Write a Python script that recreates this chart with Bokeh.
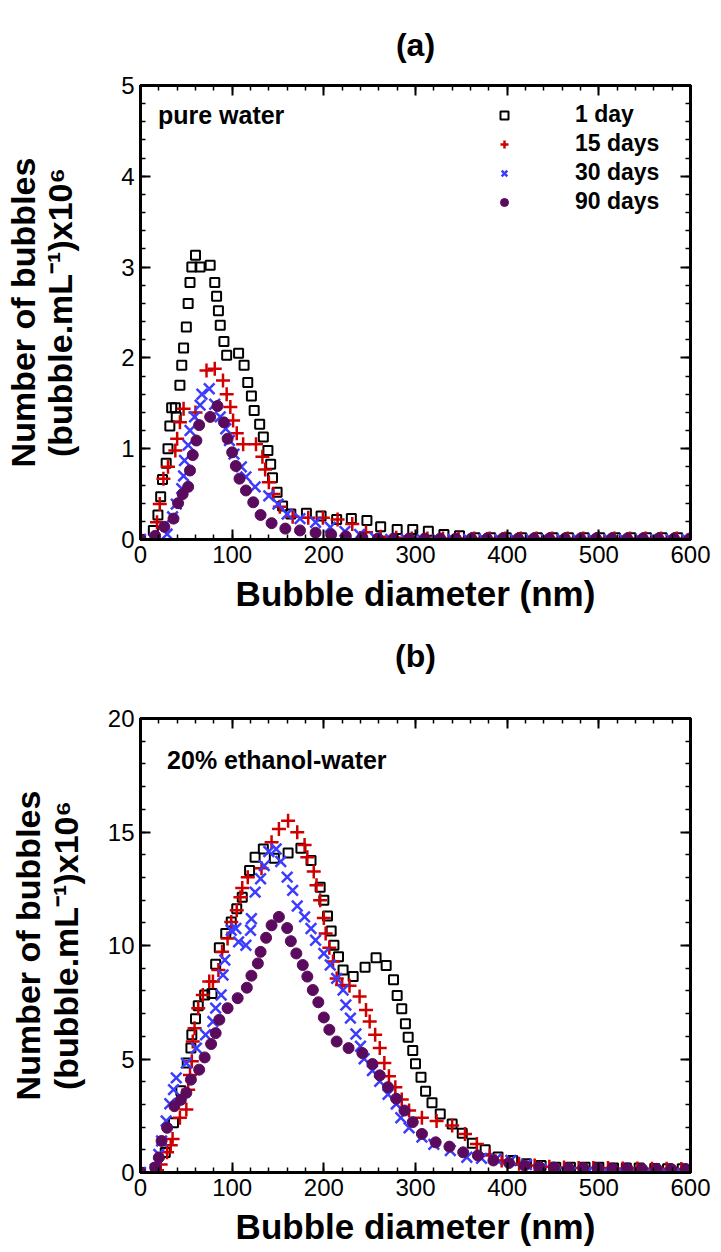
from bokeh.plotting import figure
from bokeh.models import (Range1d, LinearAxis, SingleIntervalTicker, Title, Label,
                          Legend, LegendItem, ColumnDataSource)
from bokeh.layouts import column
from bokeh.embed import file_html
from bokeh.resources import INLINE

# ---------------- data: panel (a) pure water ----------------
a_day1_x = [0, 14, 19, 22, 24, 28, 30, 32, 34, 38, 39, 43, 45, 47, 50, 52, 54, 56, 60, 65,
            76, 81, 83, 85, 87, 91, 94, 107, 113, 117, 121, 124, 130, 134, 139, 142, 144, 149, 155, 164,
            181, 197, 214, 230, 247, 262, 280, 297, 314, 331, 348, 365, 382, 399, 416, 433, 450, 467, 484, 501,
            518, 535, 552, 569, 586]
a_day1_y = [0.0, 0.10, 0.27, 0.47, 0.66, 0.84, 1.00, 1.25, 1.45, 1.45, 1.35, 1.70, 1.92, 2.11, 2.34, 2.60, 2.83, 3.00, 3.13, 3.00,
            3.02, 2.83, 2.68, 2.52, 2.36, 2.18, 2.03, 2.05, 1.92, 1.73, 1.58, 1.42, 1.27, 1.13, 0.98, 0.83, 0.68, 0.52, 0.37, 0.28,
            0.29, 0.26, 0.22, 0.23, 0.21, 0.14, 0.11, 0.11, 0.09, 0.055, 0.04, 0.02, 0.02, 0.02, 0.02, 0.02, 0.02, 0.02, 0.02, 0.02,
            0.02, 0.02, 0.02, 0.02, 0.02]

a_day15_x = [0, 18, 21, 25, 30, 38, 40, 43, 47, 60, 72, 81, 90, 94, 98, 101, 105, 112, 126, 133,
             136, 140, 145, 152, 166, 183, 199, 215, 231, 246, 262, 279, 296, 313, 330, 347, 364, 381, 398, 415,
             432, 449, 466, 483, 500, 517, 534, 551, 568, 585, 600]
a_day15_y = [0.0, 0.19, 0.39, 0.67, 0.80, 0.98, 1.11, 1.29, 1.44, 1.40, 1.86, 1.88, 1.75, 1.60, 1.46, 1.31, 1.17, 1.05, 1.05, 0.91,
             0.77, 0.63, 0.50, 0.36, 0.25, 0.24, 0.24, 0.22, 0.17, 0.08, 0.03, 0.02, 0.01, 0.01, 0.01, 0.01, 0.01, 0.01, 0.01, 0.01,
             0.01, 0.01, 0.01, 0.01, 0.01, 0.01, 0.01, 0.01, 0.01, 0.01, 0.01]

a_day30_x = [0, 15, 29, 35, 39, 45, 47, 48, 52, 54, 59, 65, 67, 75, 81, 87, 93, 97, 102, 110,
             115, 125, 140, 150, 160, 174, 191, 207, 223, 239, 256, 273, 290, 307, 324, 341, 358, 375, 392, 409,
             426, 443, 460, 477, 494, 511, 528, 545, 562, 579, 596]
a_day30_y = [0.0, 0.0, 0.06, 0.25, 0.39, 0.56, 0.70, 0.87, 1.04, 1.20, 1.35, 1.48, 1.60, 1.66, 1.49, 1.35, 1.22, 1.09, 0.94, 0.80,
             0.69, 0.58, 0.48, 0.39, 0.28, 0.23, 0.19, 0.135, 0.09, 0.055, 0.02, 0.0, 0.0, 0.0, 0.0, 0.0, 0.0, 0.0, 0.0, 0.0,
             0.0, 0.0, 0.0, 0.0, 0.0, 0.0, 0.0, 0.0, 0.0, 0.0, 0.0]

a_day90_x = [0, 16, 26, 36, 41, 46, 52, 54, 57, 61, 64, 76, 84, 91, 95, 100, 104, 108, 115, 123,
             131, 143, 158, 174, 191, 208, 224, 242, 259, 276, 293, 310, 327, 344, 361, 378, 395, 412, 429, 446,
             463, 480, 497, 514, 531, 548, 565, 582, 599]
a_day90_y = [0.0, 0.04, 0.14, 0.23, 0.40, 0.50, 0.58, 0.76, 0.93, 1.09, 1.26, 1.35, 1.47, 1.29, 1.11, 0.96, 0.81, 0.67, 0.54, 0.41,
             0.27, 0.18, 0.12, 0.10, 0.075, 0.055, 0.035, 0.02, 0.01, 0.01, 0.01, 0.01, 0.01, 0.01, 0.01, 0.01, 0.01, 0.01, 0.01, 0.01,
             0.01, 0.01, 0.01, 0.01, 0.01, 0.01, 0.01, 0.01, 0.01]

# ---------------- data: panel (b) 20% ethanol-water ----------------
b_day1_x = [0, 17, 27, 36, 44, 51, 55, 56, 60, 63, 70, 78, 82, 86, 93, 99, 105, 111, 119, 125,
            134, 146, 161, 175, 186, 196, 200, 204, 208, 211, 216, 221, 232, 245, 257, 268, 276, 280, 285, 289,
            292, 297, 300, 306, 311, 318, 327, 340, 351, 362, 376, 390, 406, 421, 437, 453, 469, 485, 500, 516,
            530, 544, 561, 575, 591]
b_day1_y = [0.0, 0.2, 0.88, 2.19, 3.6, 4.82, 5.48, 6.07, 6.77, 7.35, 7.82, 7.89, 9.17, 9.90, 10.53, 11.04, 11.62, 12.13, 13.30, 13.89,
            14.25, 13.84, 14.08, 14.28, 13.74, 12.57, 11.99, 11.30, 10.64, 10.01, 9.50, 8.92, 8.63, 9.04, 9.46, 9.12, 8.49, 7.80, 7.21, 6.55,
            5.96, 5.37, 4.79, 4.20, 3.58, 3.07, 2.58, 2.14, 1.73, 1.29, 1.0, 0.68, 0.53, 0.38, 0.31, 0.23, 0.23, 0.23, 0.23, 0.2,
            0.2, 0.2, 0.18, 0.16, 0.16]

b_day15_x = [0, 18, 22, 29, 33, 35, 43, 50, 52, 54, 56, 57, 59, 63, 68, 75, 79, 85, 89, 95,
             99, 105, 109, 111, 117, 132, 143, 151, 161, 171, 179, 182, 189, 192, 196, 200, 202, 206, 210, 214,
             220, 228, 239, 246, 250, 256, 261, 266, 271, 278, 285, 293, 307, 323, 340, 354, 367, 381, 394, 413,
             430, 446, 462, 478, 494, 510, 526, 542, 558, 574, 590]
b_day15_y = [0.0, 0.1, 0.35, 0.89, 1.2, 1.48, 2.41, 2.78, 3.65, 4.3, 4.9, 5.77, 6.36, 7.24, 7.82, 8.41, 8.41, 8.92, 9.72, 10.31,
             11.04, 11.55, 12.13, 12.53, 13.01, 13.4, 14.55, 15.13, 15.50, 14.99, 14.43, 13.89, 13.26, 12.65, 11.99, 11.21, 10.53, 9.9, 9.3, 8.55,
             8.26, 8.23, 7.75, 7.16, 6.65, 6.07, 5.48, 4.82, 4.24, 3.76, 3.22, 2.73, 2.41, 2.27, 2.07, 1.70, 1.26, 0.75, 0.53, 0.38,
             0.31, 0.25, 0.22, 0.2, 0.2, 0.2, 0.18, 0.18, 0.16, 0.16, 0.15]

b_day30_x = [0, 16, 20, 23, 28, 32, 36, 39, 50, 61, 71, 79, 82, 88, 90, 92, 99, 104, 107, 115,
             120, 121, 125, 131, 135, 140, 148, 153, 160, 166, 171, 179, 186, 191, 200, 207, 214, 221, 224, 229,
             235, 240, 244, 253, 261, 270, 279, 284, 293, 307, 320, 338, 356, 372, 388, 404, 421, 437, 453, 469,
             487, 505, 521, 539, 557, 573, 589]
b_day30_y = [0.0, 0.15, 0.80, 1.39, 2.27, 3.03, 3.65, 4.17, 4.82, 5.48, 6.07, 6.65, 7.24, 7.82, 8.70, 9.36, 10.67, 10.75, 10.16, 10.01,
             10.67, 11.18, 12.35, 12.94, 13.52, 14.14, 14.25, 13.70, 13.01, 12.43, 11.74, 11.26, 10.75, 10.23, 9.65, 9.14, 8.55, 8.04, 7.38, 6.80,
             6.10, 5.56, 5.01, 4.49, 4.02, 3.44, 3.02, 2.41, 1.97, 1.56, 1.24, 0.97, 0.67, 0.62, 0.60, 0.53, 0.35, 0.15, 0.0, 0.0,
             0.0, 0.0, 0.0, 0.0, 0.0, 0.0, 0.0]

b_day90_x = [0, 16, 20, 23, 29, 37, 44, 50, 55, 64, 70, 77, 82, 86, 95, 106, 116, 121, 128, 131,
             137, 143, 151, 160, 164, 170, 177, 182, 188, 194, 200, 206, 214, 227, 242, 253, 261, 270, 279, 288,
             297, 307, 322, 337, 352, 368, 385, 402, 419, 435, 451, 467, 483, 499, 515, 531, 547, 563, 579, 595]
b_day90_y = [0.0, 0.22, 0.66, 1.39, 1.97, 2.92, 3.2, 3.51, 4.09, 4.53, 5.07, 5.66, 6.14, 6.73, 7.24, 7.68, 8.14, 8.67, 9.21, 9.72,
             10.34, 10.89, 11.26, 10.77, 10.19, 9.65, 9.14, 8.63, 8.04, 7.50, 6.83, 6.29, 5.77, 5.48, 5.26, 4.78, 4.28, 3.76, 3.25, 2.73,
             2.22, 1.70, 1.33, 1.14, 0.89, 0.75, 0.53, 0.42, 0.31, 0.25, 0.22, 0.2, 0.2, 0.2, 0.18, 0.18, 0.16, 0.16, 0.15, 0.15]

series_labels = ["1 day", "15 days", "30 days", "90 days"]
x_title = "Bubble diameter (nm)"
y_title_1 = "Number of bubbles"
y_title_2 = "(bubble.mL\u207b\u00b9)x10\u2076"

FONT = "Liberation Sans"
BLACK = "#000000"
RED = "#d00000"
BLUE = "#3c3cff"
PURPLE = "#5a0b5e"


def style_axis(ax, interval, minor, labels=True):
    ax.ticker = SingleIntervalTicker(interval=interval, num_minor_ticks=minor)
    ax.axis_line_width = 3
    ax.axis_line_color = "black"
    ax.major_tick_in = 10
    ax.major_tick_out = 0
    ax.minor_tick_in = 5
    ax.minor_tick_out = 0
    ax.major_tick_line_width = 2
    ax.minor_tick_line_width = 1.5
    ax.major_tick_line_color = "black"
    ax.minor_tick_line_color = "black"
    ax.major_label_text_font = FONT
    if labels:
        ax.major_label_text_color = "black"
        ax.major_label_text_font_size = "24px"
        ax.major_label_standoff = 6
    else:
        ax.major_label_text_color = None
        ax.major_label_text_alpha = 0
        ax.major_label_text_font_size = "0px"
        ax.major_label_standoff = 0


def panel_title(text, standoff):
    return Title(text=text, align="center", text_font=FONT, text_font_size="32px",
                 text_font_style="bold", text_color="black", standoff=standoff)


def panel(data, ymax, yint, yminor, note, note_x, note_y,
          height, b_left, b_right, b_top, b_bottom, y_lab_standoff, s_out, legend_loc=None):
    p = figure(width=721, height=height, x_range=Range1d(0, 600), y_range=Range1d(0, ymax),
               output_backend="svg", toolbar_location=None,
               min_border_left=b_left, min_border_right=b_right,
               min_border_top=b_top, min_border_bottom=b_bottom)
    p.xgrid.visible = False
    p.ygrid.visible = False
    p.outline_line_color = "black"
    p.outline_line_width = 3
    p.background_fill_color = "white"
    p.border_fill_color = "white"

    style_axis(p.xaxis[0], 100, 5)
    style_axis(p.yaxis[0], yint, yminor)
    xa = p.xaxis[0]
    xa.axis_label = x_title
    xa.axis_label_text_font = FONT
    xa.axis_label_text_font_style = "bold"
    xa.axis_label_text_font_size = "35px"
    xa.axis_label_text_color = "black"
    xa.axis_label_standoff = 8

    ya = p.yaxis[0]
    ya.axis_label = y_title_2
    ya.axis_label_text_font = FONT
    ya.axis_label_text_font_style = "bold"
    ya.axis_label_text_font_size = "34px"
    ya.axis_label_text_color = "black"
    ya.axis_label_standoff = y_lab_standoff

    top = LinearAxis()
    style_axis(top, 100, 5, labels=False)
    p.add_layout(top, "above")
    right = LinearAxis()
    style_axis(right, yint, yminor, labels=False)
    p.add_layout(right, "right")

    p.add_layout(Title(text=y_title_1, align="center", text_font=FONT, text_font_size="34px",
                       text_font_style="bold", text_color="black", standoff=s_out), "left")

    (x1, y1), (x2, y2), (x3, y3), (x4, y4) = data
    r1 = p.scatter(x="x", y="y", source=ColumnDataSource(dict(x=x1, y=y1)), marker="square",
                   size=9, fill_color=None, line_color=BLACK, line_width=2)
    r2 = p.scatter(x="x", y="y", source=ColumnDataSource(dict(x=x2, y=y2)), marker="cross",
                   size=14, line_color=RED, line_width=2.5)
    r3 = p.scatter(x="x", y="y", source=ColumnDataSource(dict(x=x3, y=y3)), marker="x",
                   size=15, line_color=BLUE, line_width=2.5)
    r4 = p.scatter(x="x", y="y", source=ColumnDataSource(dict(x=x4, y=y4)), marker="circle",
                   size=11, fill_color=PURPLE, line_color=PURPLE)

    p.add_layout(Label(x=note_x, y=note_y, text=note, text_font=FONT, text_font_size="25px",
                       text_font_style="bold", text_color="black", text_baseline="alphabetic"))

    if legend_loc is not None:
        items = [LegendItem(label=lab, renderers=[r]) for lab, r in zip(series_labels, [r1, r2, r3, r4])]
        lg = Legend(items=items, location=legend_loc, padding=0, margin=0, spacing=2,
                    glyph_width=20, glyph_height=20, label_standoff=61,
                    label_text_font=FONT, label_text_font_size="23px", label_text_font_style="bold",
                    label_text_color="black", border_line_alpha=0, background_fill_alpha=0)
        p.add_layout(lg)
    return p


p1 = panel([(a_day1_x, a_day1_y), (a_day15_x, a_day15_y), (a_day30_x, a_day30_y), (a_day90_x, a_day90_y)],
           5, 1, 5, "pure water", 19, 4.67,
           height=699, b_left=140, b_right=24, b_top=85, b_bottom=160,
           y_lab_standoff=39, s_out=-6, legend_loc=(354, 324))
# "(a)" above panel (a); "(b)" placed under panel (a)'s axis title, i.e. above panel (b)
p1.title.text = "(a)"
p1.title.align = "center"
p1.title.text_font = FONT
p1.title.text_font_size = "32px"
p1.title.text_font_style = "bold"
p1.title.text_color = "black"
p1.title.standoff = 46
p1.add_layout(panel_title("(b)", 40), "below")

p2 = panel([(b_day1_x, b_day1_y), (b_day15_x, b_day15_y), (b_day30_x, b_day30_y), (b_day90_x, b_day90_y)],
           20, 5, 5, "20% ethanol-water", 29, 18.15,
           height=553, b_left=133, b_right=31, b_top=19, b_bottom=80,
           y_lab_standoff=20, s_out=-6)

layout = column(p1, p2)
open("out.html", "w").write(file_html(layout, INLINE))
